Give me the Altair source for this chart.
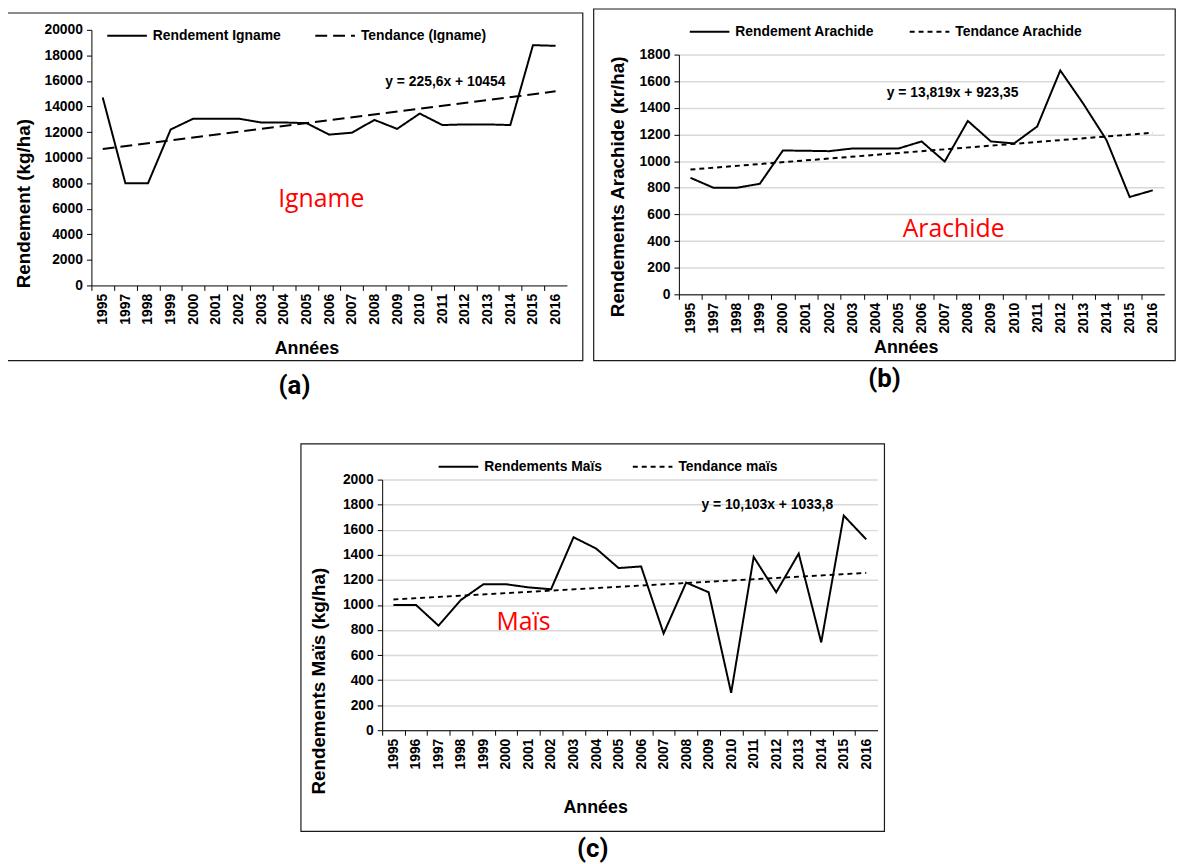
import altair as alt
import pandas as pd

# ---------------- data ----------------
years_ab = ["1995", "1997", "1998", "1999", "2000", "2001", "2002", "2003", "2004",
            "2005", "2006", "2007", "2008", "2009", "2010", "2011", "2012", "2013",
            "2014", "2015", "2016"]
years_c = ["1995", "1996", "1997", "1998", "1999", "2000", "2001", "2002", "2003",
           "2004", "2005", "2006", "2007", "2008", "2009", "2010", "2011", "2012",
           "2013", "2014", "2015", "2016"]

igname = [14700, 8000, 8000, 12200, 13050, 13050, 13050, 12750, 12750, 12700, 11800,
          11950, 12950, 12250, 13450, 12550, 12600, 12600, 12550, 18800, 18750]
igname_trend = [10680, 15190]          # trend line at first and last year

arachide = [875, 800, 800, 830, 1080, 1078, 1075, 1095, 1095, 1095, 1148, 997, 1302,
            1148, 1133, 1260, 1681, 1430, 1158, 731, 781]
arachide_trend = [937, 1213]

mais = [1000, 1000, 835, 1040, 1165, 1165, 1140, 1125, 1540, 1450, 1294, 1307, 772,
        1178, 1101, 298, 1383, 1101, 1410, 701, 1713, 1523]
mais_trend = [1044, 1256]

series_a = ["Rendement Igname", "Tendance (Igname)"]
series_b = ["Rendement Arachide", "Tendance Arachide"]
series_c = ["Rendements Maïs", "Tendance maïs"]

eq_a, eq_b, eq_c = "y = 225,6x + 10454", "y = 13,819x + 923,35", "y = 10,103x + 1033,8"

FONT = "Liberation Sans"
RED_FONT = "Open Sans"
CAP_FONT = "Roboto"


def panel(years, vals, trend, names, dash, ymax, ystep, W, H, grid,
          ytitle, ytx, yty, xtx, xty, legx, legy, colpad,
          eq, eq_year, eq_val, eq_dx, lab, lab_year, lab_val, lab_dx,
          frame, caption, cap_off, key, top_pad=0):
    step = W / len(years)
    VH = H + top_pad          # view height; the plot itself starts top_pad lower
    fld = "serie_" + key
    real = pd.DataFrame({"Année": years, "val": vals, fld: names[0]})
    tr = pd.DataFrame({"Année": [years[0], years[-1]], "val": trend, fld: names[1]})
    df = pd.concat([real, tr], ignore_index=True)

    xaxis = alt.Axis(title="Années", labelAngle=-90, labelFont=FONT, labelFontSize=14,
                     labelFontWeight="bold", labelColor="black", labelPadding=3,
                     tickOffset=-step / 2, labelOffset=step / 2, tickSize=5,
                     tickColor="black", domainColor="black", grid=False,
                     titleFont=FONT, titleFontSize=18, titleFontWeight="bold",
                     titleColor="black", titleX=xtx, titleY=xty,
                     titleAlign="center", titleBaseline="middle")
    yaxis = alt.Axis(title=ytitle, values=list(range(0, ymax + 1, ystep)), format="d",
                     labelFont=FONT, labelFontSize=14, labelFontWeight="bold",
                     labelColor="black", labelPadding=4, tickSize=5, tickColor="black",
                     domainColor="black", grid=grid, gridColor="#d9d9d9", gridWidth=1.5,
                     titleFont=FONT, titleFontSize=19, titleFontWeight="bold",
                     titleColor="black", titleAngle=-90, titleX=ytx, titleY=yty + top_pad,
                     titleAlign="center", titleBaseline="middle")
    xscale = alt.Scale(type="point", domain=years, padding=0.5)
    yscale = alt.Scale(domain=[0, ymax], nice=False, range=[VH, top_pad])
    x = alt.X("Année:O", scale=xscale, axis=xaxis)
    y = alt.Y("val:Q", scale=yscale, axis=yaxis)

    frame_layer = alt.Chart(pd.DataFrame({"k": [0]})).mark_rect(
        fill="white", fillOpacity=0, stroke="#1a1a1a", strokeWidth=1.2
    ).encode(x=alt.value(frame[0]), x2=alt.value(W + frame[1]),
             y=alt.value(frame[2] + top_pad), y2=alt.value(VH + frame[3]))

    lines = alt.Chart(df).mark_line(color="black", strokeWidth=2).encode(
        x=x, y=y,
        strokeDash=alt.StrokeDash(
            fld + ":N",
            scale=alt.Scale(domain=names, range=[[1, 0], dash]),
            legend=alt.Legend(title=None, orient="none", legendX=legx,
                              legendY=legy + top_pad,
                              direction="horizontal", symbolType="stroke",
                              symbolSize=1600, symbolStrokeWidth=2,
                              symbolStrokeColor="black", labelFont=FONT,
                              labelFontSize=14, labelFontWeight="bold",
                              labelColor="black", labelOffset=5,
                              columnPadding=colpad, padding=0)))

    eq_text = alt.Chart(pd.DataFrame({"Année": [eq_year], "val": [eq_val], "t": [eq]})).mark_text(
        font=FONT, fontSize=14, fontWeight="bold", color="black", dx=eq_dx,
        baseline="middle", align="center").encode(x=x, y=y, text="t:N")
    lab_text = alt.Chart(pd.DataFrame({"Année": [lab_year], "val": [lab_val], "t": [lab]})).mark_text(
        font=RED_FONT, fontSize=25, color="#ff0000", dx=lab_dx,
        baseline="middle", align="center").encode(x=x, y=y, text="t:N")

    return alt.layer(frame_layer, lines, eq_text, lab_text).properties(
        width=W, height=VH,
        title=alt.TitleParams(caption, orient="bottom", anchor="middle", frame="bounds",
                              font=CAP_FONT, fontSize=26, fontWeight="bold",
                              color="black", offset=cap_off))


pa = panel(years_ab, igname, igname_trend, series_a, [12, 6], 20000, 2000, 480, 258, False,
           "Rendement (kg/ha)", -68, 175, 217, 64, 15, -15, 30,
           eq_a, "2011", 15900, 3, "Igname", "2006", 6750, -8,
           (-86, 16, -17, 76), "(a)", 12, "a")
pb = panel(years_ab, arachide, arachide_trend, series_b, [5, 4], 1800, 200, 490, 242, True,
           "Rendements Arachide (kr/ha)", -62, 133, 229, 54, 10, -44, 31,
           eq_b, "2007", 1510, 8, "Arachide", "2007", 491, 9,
           (-86, 11, -46, 67), "(b)", 5, "b", top_pad=25)
pc = panel(years_c, mais, mais_trend, series_c, [5, 4], 2000, 200, 500, 253, True,
           "Rendements Maïs (kg/ha)", -64, 203, 215, 78, 56, -34, 26,
           eq_c, "2012", 1800, -9, "Maïs", "2001", 862, -5,
           (-82, 7, -36, 102), "(c)", 4, "c")

top = alt.hconcat(pa, pb, spacing=9).resolve_scale(
    strokeDash="independent", x="independent", y="independent"
).resolve_legend(strokeDash="independent")
chart = alt.vconcat(top, pc, spacing=44, center=True).resolve_scale(
    strokeDash="independent", x="independent", y="independent"
).resolve_legend(strokeDash="independent").properties(
    padding={"top": -4, "left": -3, "right": 0, "bottom": 0}, background="white"
).configure_view(strokeWidth=0)

chart.save("out.html", embed_options={"renderer": "svg", "actions": False})
